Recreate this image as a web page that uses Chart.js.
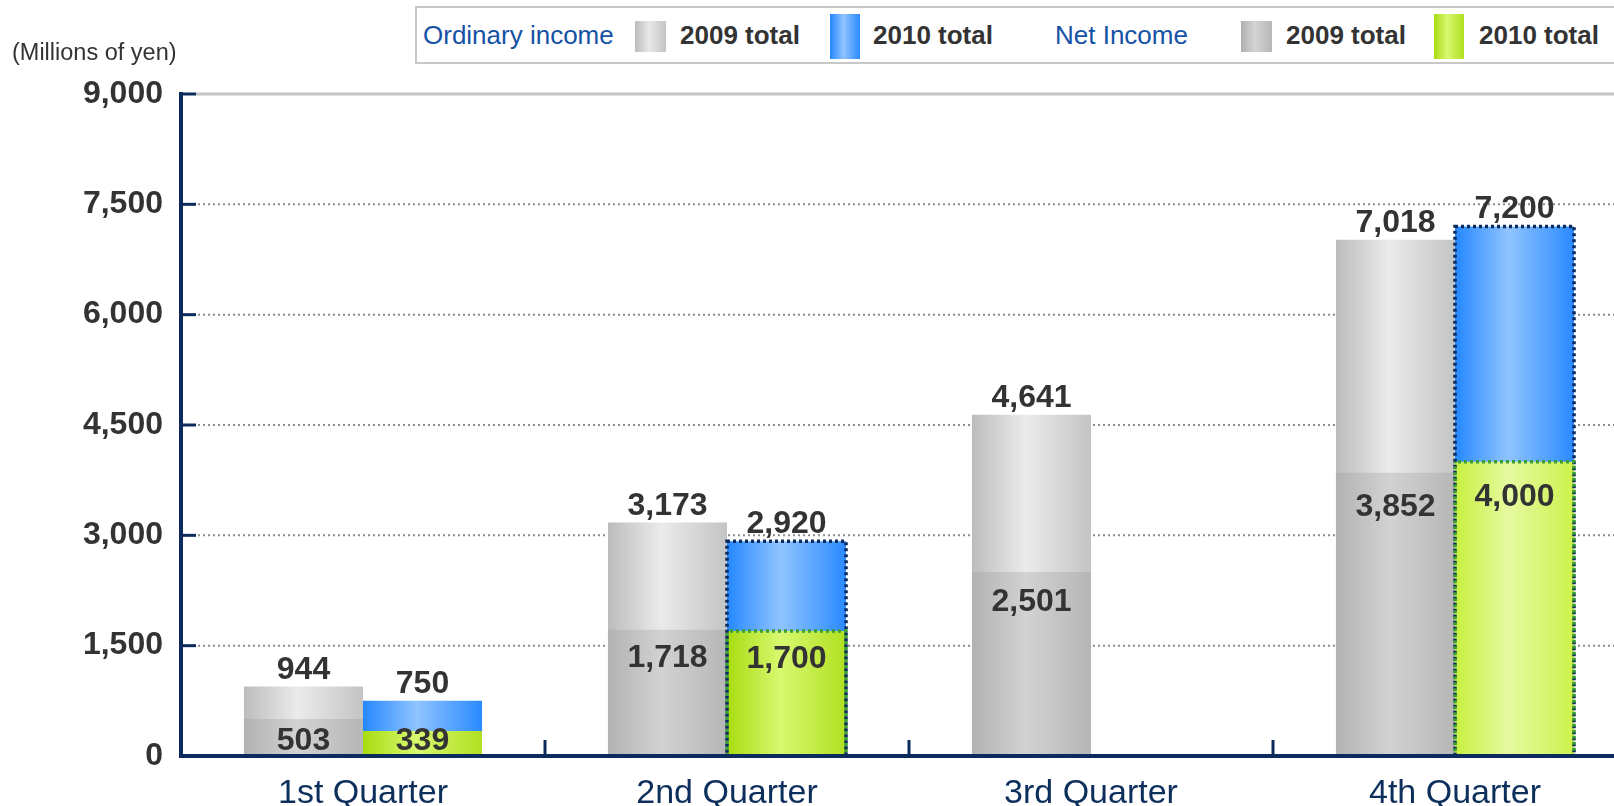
<!DOCTYPE html>
<html>
<head>
<meta charset="utf-8">
<script src="https://cdn.jsdelivr.net/npm/chart.js@4/dist/chart.umd.min.js"></script>
<style>
  body { margin: 0; overflow: hidden; background: #fff; font-family: "Liberation Sans", Arial, sans-serif; }
  #wrap { position: relative; width: 1640px; height: 806px; }
  #unit { position: absolute; left: 12px; top: 39px; font-size: 23.5px; color: #333; }
  #legend { position: absolute; left: 415px; top: 6px; width: 1300px; height: 54px; border: 2px solid #c8c8c8; background: #fff; }
  .lg { position: absolute; top: 0; line-height: 54px; font-size: 26px; white-space: nowrap; }
  .lg.head { color: #1552a5; }
  .lg.item { color: #333; font-weight: bold; }
  .sw { position: absolute; }
  .sw.small { top: 13px; height: 31px; width: 31px; }
  .sw.big { top: 6px; height: 45px; width: 30px; }
  canvas { position: absolute; left: 0; top: 0; }
</style>
</head>
<body>
<div id="wrap">
  <canvas id="chart" width="1640" height="806"></canvas>
  <div id="unit">(Millions of yen)</div>
  <div id="legend">
    <span class="lg head" style="left:6px">Ordinary income</span>
    <span class="sw small" style="left:218px;background:linear-gradient(to right,#bcbcbc,#e8e8e8 45%,#c4c4c4)"></span>
    <span class="lg item" style="left:263px">2009 total</span>
    <span class="sw big" style="left:413px;background:linear-gradient(to right,#2488ff,#90c4ff 45%,#2a8aff)"></span>
    <span class="lg item" style="left:456px">2010 total</span>
    <span class="lg head" style="left:638px">Net Income</span>
    <span class="sw small" style="left:824px;background:linear-gradient(to right,#b0b0b0,#d4d4d4 45%,#b6b6b6)"></span>
    <span class="lg item" style="left:869px">2009 total</span>
    <span class="sw big" style="left:1017px;background:linear-gradient(to right,#a8dc10,#d8f870 45%,#b0e020)"></span>
    <span class="lg item" style="left:1062px">2010 total</span>
  </div>
</div>
<script>
const quarters = ["1st Quarter", "2nd Quarter", "3rd Quarter", "4th Quarter"];
const ordinary = { "2009": [944, 3173, 4641, 7018], "2010": [750, 2920, null, 7200] };
const net = { "2009": [503, 1718, 2501, 3852], "2010": [339, 1700, null, 4000] };
// 2010 bars drawn with a dotted outline
const forecast = [false, true, false, true];

const navy = "#0b2b5c";

const gradients = {
  ord2009: ["#bcbcbc", "#ebebeb", "#c4c4c4"],
  net2009: ["#b2b2b2", "#d2d2d2", "#b6b6b6"],
  ord2010: ["#2488ff", "#90c4ff", "#2a8aff"],
  net2010: ["#a8dc10", "#d8f870", "#b0e020"],
  net2010light: ["#c8f040", "#e6faa0", "#ccf24c"]
};

function barGradient(key) {
  return function (ctx) {
    let stops = gradients[key];
    if (key == "net2010" && ctx.dataIndex == 3) stops = gradients.net2010light;
    let el = ctx.chart.getDatasetMeta(ctx.datasetIndex).data[ctx.dataIndex];
    if (!el || !isFinite(el.x) || !el.width) return stops[1];
    let g = ctx.chart.ctx.createLinearGradient(el.x - el.width / 2, 0, el.x + el.width / 2, 0);
    g.addColorStop(0, stops[0]);
    g.addColorStop(0.45, stops[1]);
    g.addColorStop(1, stops[2]);
    return g;
  };
}

function fmt(v) {
  return v.toLocaleString("en-US");
}

const extras = {
  id: "extras",
  beforeDatasetsDraw(chart) {
    const { ctx, chartArea } = chart;
    const y = chart.scales.y;
    ctx.save();
    y.ticks.forEach((t) => {
      if (t.value == 0) return;
      let py = y.getPixelForValue(t.value);
      if (t.value == y.max) {
        ctx.setLineDash([]);
        ctx.strokeStyle = "#c4c4c4";
        ctx.lineWidth = 3;
        ctx.beginPath();
        ctx.moveTo(chartArea.left + 14, py);
        ctx.lineTo(chartArea.right, py);
        ctx.stroke();
      } else {
        ctx.setLineDash([2, 3]);
        ctx.strokeStyle = "#8c8c8c";
        ctx.lineWidth = 2;
        ctx.beginPath();
        ctx.moveTo(chartArea.left + 17, py);
        ctx.lineTo(chartArea.right, py);
        ctx.stroke();
      }
      ctx.setLineDash([]);
      ctx.strokeStyle = navy;
      ctx.lineWidth = 3;
      ctx.beginPath();
      ctx.moveTo(chartArea.left, py);
      ctx.lineTo(chartArea.left + 15, py);
      ctx.stroke();
    });
    ctx.restore();
  },
  afterDatasetsDraw(chart) {
    const { ctx, chartArea } = chart;
    const x = chart.scales.x;
    ctx.save();

    // dotted outlines round the 2010 bars
    forecast.forEach((f, i) => {
      if (!f) return;
      let ordEl = chart.getDatasetMeta(3).data[i];
      let netEl = chart.getDatasetMeta(1).data[i];
      ctx.lineWidth = 3.5;
      ctx.strokeStyle = navy;
      ctx.setLineDash([3, 3]);
      ctx.lineDashOffset = 0;
      ctx.strokeRect(ordEl.x - ordEl.width / 2, ordEl.y, ordEl.width, ordEl.base - ordEl.y);
      ctx.strokeStyle = "#3c9e34";
      ctx.lineDashOffset = 3;
      ctx.strokeRect(netEl.x - netEl.width / 2, netEl.y, netEl.width, netEl.base - netEl.y);
    });
    ctx.setLineDash([]);

    // category separators on the x axis
    ctx.strokeStyle = navy;
    ctx.lineWidth = 3;
    for (let i = 1; i < quarters.length; i++) {
      let px = (x.getPixelForValue(i - 1) + x.getPixelForValue(i)) / 2;
      ctx.beginPath();
      ctx.moveTo(px, chartArea.bottom - 16);
      ctx.lineTo(px, chartArea.bottom);
      ctx.stroke();
    }

    // value labels
    ctx.fillStyle = "#333";
    ctx.font = "bold 32px 'Liberation Sans', Arial, sans-serif";
    ctx.textAlign = "center";
    ctx.textBaseline = "alphabetic";
    chart.data.datasets.forEach((ds, di) => {
      chart.getDatasetMeta(di).data.forEach((el, i) => {
        let v = ds.data[i];
        if (v == null) return;
        if (ds.kind == "ordinary") {
          ctx.fillText(fmt(v), el.x, el.y - 8);
        } else {
          let h = el.base - el.y;
          let ty = Math.min(el.y + 32 + h * 0.04, el.base - 6);
          ctx.fillText(fmt(v), el.x, ty);
        }
      });
    });
    ctx.restore();
  }
};

Chart.defaults.font.family = "'Liberation Sans', Arial, sans-serif";
Chart.defaults.color = "#333";

const chart = new Chart("chart", {
  type: "bar",
  data: {
    labels: quarters,
    datasets: [
      { label: "Net Income 2009 total", kind: "net", stack: "2009", data: net["2009"], backgroundColor: barGradient("net2009") },
      { label: "Net Income 2010 total", kind: "net", stack: "2010", data: net["2010"], backgroundColor: barGradient("net2010") },
      { label: "Ordinary income 2009 total", kind: "ordinary", stack: "2009", data: ordinary["2009"], backgroundColor: barGradient("ord2009") },
      { label: "Ordinary income 2010 total", kind: "ordinary", stack: "2010", data: ordinary["2010"], backgroundColor: barGradient("ord2010") }
    ]
  },
  options: {
    responsive: false,
    animation: false,
    events: [],
    categoryPercentage: 0.654,
    barPercentage: 1,
    layout: { padding: { top: 94, right: 3, left: 0, bottom: 0 } },
    plugins: {
      legend: { display: false },
      tooltip: { enabled: false }
    },
    scales: {
      x: {
        grid: { display: false },
        border: { display: true, color: navy, width: 4, z: 1 },
        ticks: { color: "#0d2f5c", font: { size: 34 }, padding: 9 },
        afterFit(scale) { scale.height = 50; }
      },
      y: {
        stacked: false,
        min: 0,
        max: 9000,
        grid: { display: false },
        border: { display: true, color: navy, width: 4, z: 1 },
        ticks: {
          stepSize: 1500,
          padding: 10,
          color: "#333",
          font: { size: 32, weight: "bold" },
          callback: (v) => fmt(v)
        },
        afterFit(scale) { scale.width = 181; }
      }
    }
  },
  plugins: [extras]
});
// second pass so the bar gradients can use the laid out bar positions
chart.update("none");
</script>
</body>
</html>
